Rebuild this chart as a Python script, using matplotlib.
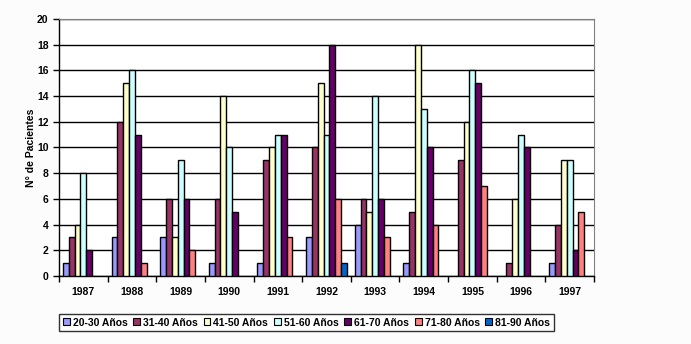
import numpy as np
import matplotlib.pyplot as plt
from matplotlib.patches import Patch

plt.rcParams['font.family'] = ['Liberation Sans', 'DejaVu Sans']

years = ['1987', '1988', '1989', '1990', '1991', '1992', '1993', '1994', '1995', '1996', '1997']
groups = ['20-30 Años', '31-40 Años', '41-50 Años', '51-60 Años', '61-70 Años', '71-80 Años', '81-90 Años']
colors = ['#9999FF', '#993366', '#FFFFCC', '#CCFFFF', '#660066', '#FF8080', '#0066CC']

a20_30 = [1, 3, 3, 1, 1, 3, 4, 1, 0, 0, 1]
a31_40 = [3, 12, 6, 6, 9, 10, 6, 5, 9, 1, 4]
a41_50 = [4, 15, 3, 14, 10, 15, 5, 18, 12, 6, 9]
a51_60 = [8, 16, 9, 10, 11, 11, 14, 13, 16, 11, 9]
a61_70 = [2, 11, 6, 5, 11, 18, 6, 10, 15, 10, 2]
a71_80 = [0, 1, 2, 0, 3, 6, 3, 4, 7, 0, 5]
a81_90 = [0, 0, 0, 0, 0, 1, 0, 0, 0, 0, 0]
series = [a20_30, a31_40, a41_50, a51_60, a61_70, a71_80, a81_90]

fig = plt.figure(figsize=(6.91, 3.44), dpi=100, facecolor='#fcfcfc')
ax = fig.add_axes([0.0854, 0.1977, 0.7742, 0.7471])
ax.set_facecolor('white')

x = np.arange(len(years))
w = 0.12
for i, vals in enumerate(series):
    vals = np.array(vals, dtype=float)
    h = np.where(vals > 0, vals, np.nan)
    ax.bar(x + (i - 3) * w, h, width=w, color=colors[i], edgecolor='black',
           linewidth=1, zorder=3)

ax.set_xlim(-0.5, len(years) - 0.5)
ax.set_ylim(0, 20)
ax.set_yticks(range(0, 21, 2))
ax.yaxis.grid(True, color='black', linewidth=1, zorder=0)
ax.set_xticks(x)
ax.set_xticklabels(years, fontsize=7.5, fontweight='bold')
ax.set_xticks(np.arange(-0.5, len(years)), minor=True)
ax.tick_params(axis='x', which='major', length=0, pad=8)
ax.tick_params(axis='x', which='minor', length=4, width=1, direction='out')
ax.tick_params(axis='y', length=4, width=1, labelsize=7.5)
for lab in ax.get_yticklabels():
    lab.set_fontweight('bold')

ax.spines['left'].set_color('black')
ax.spines['bottom'].set_color('black')
ax.spines['left'].set_linewidth(1)
ax.spines['bottom'].set_linewidth(1)
ax.spines['top'].set_color('#808080')
ax.spines['right'].set_color('#808080')

ax.set_ylabel('N° de Pacientes', fontsize=7.5, fontweight='bold', labelpad=1)

handles = [Patch(facecolor=c, edgecolor='black', linewidth=0.8) for c in colors]
leg = fig.legend(handles, groups, loc='center', bbox_to_anchor=(0.4435, 0.0625),
                 ncol=7, fancybox=False, frameon=True, edgecolor='black',
                 prop={'size': 7.5, 'weight': 'bold'}, handlelength=0.65,
                 handleheight=0.65, handletextpad=0.3, columnspacing=0.55,
                 borderpad=0.35, borderaxespad=0)
leg.get_frame().set_linewidth(1)

fig.savefig('out.png', dpi=100, facecolor=fig.get_facecolor())
